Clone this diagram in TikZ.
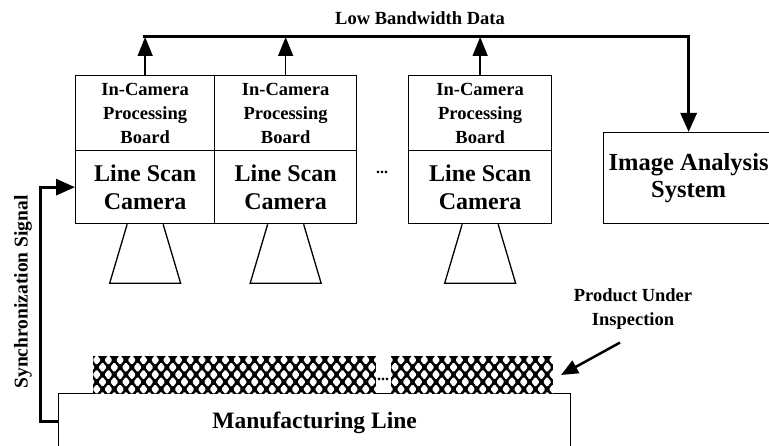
\documentclass[tikz,border=0pt]{standalone}
\usepackage{fontspec}
\setmainfont{Liberation Serif}
\usetikzlibrary{arrows.meta}

\begin{document}
\begin{tikzpicture}[x=1pt,y=-1pt,
  frame/.style={draw, line width=1.3pt, inner sep=0pt, anchor=north west, align=center},
  board/.style={frame, minimum height=75pt, font=\bfseries\fontsize{18.5}{24}\selectfont},
  camera/.style={frame, minimum height=73pt, font=\bfseries\fontsize{24}{28}\selectfont},
  lens/.style={draw, line width=1.3pt, line join=miter},
  stem/.style={line width=1.5pt, -{Triangle[length=19pt,width=15pt]}},
  heavy/.style={line width=3pt, -{Triangle[length=19pt,width=16pt]}},
  hatchbar/.style={draw, fill=black, line width=1pt, inner sep=0pt, anchor=north west, minimum height=37pt},
  label/.style={font=\bfseries\fontsize{18.5}{24}\selectfont, align=center, inner sep=0pt},
  dots/.style={font=\bfseries\fontsize{16}{16}\selectfont, inner sep=0pt}
]
\useasboundingbox (0,0) rectangle (769,446);
\clip (0,0) rectangle (769,446);

% processing boards
\node[board, minimum width=139pt] (b1) at (75,75) {In-Camera\\Processing\\Board};
\node[board, minimum width=142pt] (b2) at (214,75) {In-Camera\\Processing\\Board};
\node[board, minimum width=143pt] (b3) at (408,75) {In-Camera\\Processing\\Board};

% line scan cameras
\node[camera, minimum width=139pt] (c1) at (75,150) {Line Scan\\Camera};
\node[camera, minimum width=142pt] (c2) at (214,150) {Line Scan\\Camera};
\node[camera, minimum width=143pt] (c3) at (408,150) {Line Scan\\Camera};
\node[dots] (cdots) at (382,172) {...};

% lenses
\foreach \c in {c1,c2,c3}
  \draw[lens] ([xshift=-18pt]\c.south) -- ++(-17.5,59) -- ++(71,0) -- ([xshift=18pt]\c.south);

% image analysis system
\node[frame, minimum width=170pt, minimum height=91pt,
      font=\bfseries\fontsize{24.5}{27}\selectfont] (ias) at (603,132) {Image Analysis\\System};

% low bandwidth data bus
\coordinate (bus) at (0,37);
\node[label] (bw) at (420,18) {Low Bandwidth Data};
\foreach \b in {b1,b2,b3}
  \draw[stem] (\b.north) -- (\b.north |- bus);
\draw[heavy, line join=miter] ([xshift=-2pt]b1.north |- bus) -- (ias.north |- bus) -- (ias.north);

% manufacturing line and products (cross-hatched)
\node[frame, minimum width=512pt, minimum height=58pt,
      font=\bfseries\fontsize{23.5}{26}\selectfont] (ml) at (58,393) {Manufacturing Line};
\node[hatchbar, minimum width=282pt] (p1) at (93,356) {};
\node[hatchbar, minimum width=161pt] (p2) at (391,356) {};
\begin{scope}
  \clip (p1.north west) rectangle (p1.south east) (p2.north west) rectangle (p2.south east);
  \foreach \j in {0,...,5}
    \foreach \i in {-1,...,40}
      \fill[white, rounded corners=1.2pt]
        ({96.7+11.7*\i+5.85*mod(\j,2)},{360+7.3*\j})
        ++(-4.1,0) -- ++(4.1,-5.1) -- ++(4.1,5.1) -- ++(-4.1,5.1) -- cycle;
\end{scope}
\node[dots] (pdots) at (383,379) {...};

\node[label] (prod) at (633,309) {Product Under\\Inspection};
\draw[line width=2.5pt, -{Triangle[length=17pt,width=14pt]}]
  ([xshift=-13pt,yshift=-13pt]prod.south) -- ([xshift=8pt]p2.east);

% synchronization signal
\node[font=\bfseries\fontsize{19.5}{22}\selectfont, rotate=90, inner sep=0pt] (sync) at (23,292) {Synchronization Signal};
\draw[heavy, line join=miter] ([yshift=-29pt]ml.north west) -- ++(-18,0) |- (c1.west);
\end{tikzpicture}
\end{document}
